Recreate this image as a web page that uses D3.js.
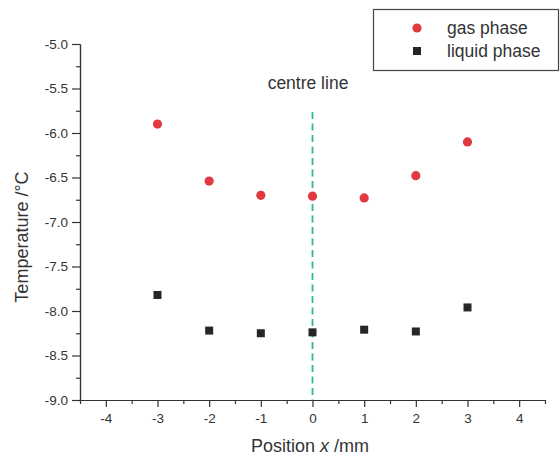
<!DOCTYPE html>
<html><head><meta charset="utf-8">
<script src="https://cdn.jsdelivr.net/npm/d3@7"></script>
<style>body{margin:0;background:#fff;} text{font-family:"Liberation Sans",Arial,sans-serif;fill:#333;}</style>
</head><body>
<svg id="c" width="560" height="456"></svg>
<script>
const positions = [-3, -2, -1, 0, 1, 2, 3];
const gasPhase = [-5.90, -6.54, -6.70, -6.71, -6.73, -6.48, -6.10];
const liquidPhase = [-7.82, -8.22, -8.25, -8.24, -8.21, -8.23, -7.96];
const xTicks = [-4, -3, -2, -1, 0, 1, 2, 3, 4];
const yTicks = [-5.0, -5.5, -6.0, -6.5, -7.0, -7.5, -8.0, -8.5, -9.0];
const centreX = 0;

const svg = d3.select("#c");
const x = d3.scaleLinear().domain([-4.5, 4.5]).range([80, 545]);
const y = d3.scaleLinear().domain([-9, -5]).range([400, 44]);
const hy = (f) => (d) => f(d).replace("\u2212", "-");

// axes
const gx = svg.append("g").attr("transform", "translate(0,400)");
gx.call(d3.axisBottom(x).tickValues(xTicks).tickFormat(hy(d3.format("d"))).tickSize(7).tickSizeOuter(0).tickPadding(6));
gx.append("g").call(d3.axisBottom(x).tickValues(d3.range(-4.5, 4.51, 1)).tickFormat("").tickSize(4).tickSizeOuter(0));
const gy = svg.append("g").attr("transform", "translate(80,0)");
gy.call(d3.axisLeft(y).tickValues(yTicks).tickFormat(hy(d3.format(".1f"))).tickSize(8).tickSizeOuter(0).tickPadding(4));
gy.append("g").call(d3.axisLeft(y).tickValues(d3.range(-8.75, -4.9, 0.5)).tickFormat("").tickSize(4).tickSizeOuter(0));
svg.selectAll(".domain").attr("stroke", "#333").attr("stroke-width", 1.2);
svg.selectAll(".tick line").attr("stroke", "#333").attr("stroke-width", 1.2);
svg.selectAll(".tick text").style("font-size", "13.5px").attr("fill", "#333");

// centre line
svg.append("line").attr("x1", x(centreX)).attr("x2", x(centreX)).attr("y1", 112).attr("y2", 400)
  .attr("stroke", "#2dbd7e").attr("stroke-width", 1.8).attr("stroke-dasharray", "7,4.5");
svg.append("text").attr("x", 308).attr("y", 89).attr("text-anchor", "middle")
  .style("font-size", "17.5px").text("centre line");

// points
svg.append("g").selectAll("circle").data(positions).join("circle")
  .attr("cx", (d) => x(d)).attr("cy", (d, i) => y(gasPhase[i])).attr("r", 4.6).attr("fill", "#e03a40");
svg.append("g").selectAll("rect").data(positions).join("rect")
  .attr("x", (d) => x(d) - 4).attr("y", (d, i) => y(liquidPhase[i]) - 4).attr("width", 8).attr("height", 8).attr("fill", "#262626");

// axis labels
svg.append("text").attr("x", 310).attr("y", 452).attr("text-anchor", "middle").style("font-size", "18px")
  .html('Position <tspan font-style="italic">x</tspan> /mm');
svg.append("text").attr("transform", "translate(28,237) rotate(-90)").attr("text-anchor", "middle").style("font-size", "18px")
  .text("Temperature /°C");

// legend
svg.append("rect").attr("x", 373.5).attr("y", 9.5).attr("width", 185).attr("height", 61).attr("fill", "#fff")
  .attr("stroke", "#444").attr("stroke-width", 1.2);
svg.append("circle").attr("cx", 417).attr("cy", 28).attr("r", 4.6).attr("fill", "#e03a40");
svg.append("rect").attr("x", 413).attr("y", 47).attr("width", 8).attr("height", 8).attr("fill", "#262626");
svg.append("text").attr("x", 447).attr("y", 34).style("font-size", "17.5px").text("gas phase");
svg.append("text").attr("x", 447).attr("y", 57).style("font-size", "17.5px").text("liquid phase");
</script>
</body></html>
